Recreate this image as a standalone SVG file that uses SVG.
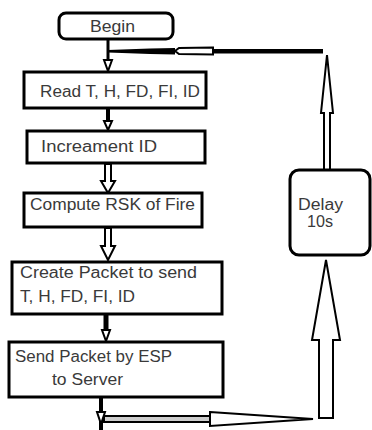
<svg xmlns="http://www.w3.org/2000/svg" width="372" height="430" viewBox="0 0 372 430">
<style>
.box{fill:#fff;stroke:#000;stroke-width:3}
.t{font-family:"Liberation Sans",Arial,sans-serif;font-size:16px;fill:#3a3a3a}
.ln{stroke:#000;fill:none}
.hol{fill:#fff;stroke:#000;stroke-width:2;stroke-linejoin:miter}
.blk{fill:#000;stroke:none}
</style>
<rect width="372" height="430" fill="#fff"/>
<g id="connectors">
  <line class="ln" x1="108" y1="39" x2="108" y2="62" stroke-width="3"/>
  <polygon class="hol" points="104,60 112,60 108,71"/>
  <line class="ln" x1="108" y1="108" x2="108" y2="122" stroke-width="4"/>
  <polygon class="hol" points="104,121 112,121 108,130"/>
  <path class="hol" d="M105,164 L111,164 L111,181 L115,181 L108,193 L101,181 L105,181 Z"/>
  <path class="hol" d="M105,228 L111,228 L111,246 L115,246 L108,260 L101,246 L105,246 Z"/>
  <line class="ln" x1="106" y1="314" x2="106" y2="331" stroke-width="5"/>
  <polygon class="hol" points="102,330 110,330 106,341"/>
  <line class="ln" x1="101" y1="397" x2="101" y2="430" stroke-width="4"/>
  <polygon class="hol" points="97,412 105,412 101,424"/>
  <rect x="104" y="416" width="106" height="6" fill="#ccc" stroke="#000" stroke-width="2"/>
  <polygon class="hol" points="210,412 313,419 210,426"/>
  <path class="hol" d="M319,418 L333,418 L333,340 L340,340 L326,260 L312,340 L319,340 Z"/>
  <path class="hol" d="M324,170 L330,170 L330,113 L333,113 L327,55 L321,113 L324,113 Z"/>
  <rect class="blk" x="213" y="49" width="110" height="4.5"/>
  <polygon class="blk" points="175,48 150,48.5 108,50 108,52.5 150,54 175,54.5"/>
  <polygon class="hol" points="213,47.5 179,48 175,51 179,54 213,54.5"/>
</g>
<g id="begin">
  <rect class="box" x="59" y="13" width="114" height="26" rx="7"/>
  <text class="t" x="90" y="32" textLength="45" lengthAdjust="spacingAndGlyphs">Begin</text>
</g>
<g id="read">
  <rect class="box" x="24" y="72" width="182" height="36"/>
  <text class="t" x="40" y="97" textLength="160" lengthAdjust="spacingAndGlyphs">Read T, H, FD, FI, ID</text>
</g>
<g id="increment">
  <rect class="box" x="27" y="131" width="178" height="32"/>
  <text class="t" x="41" y="152" textLength="116" lengthAdjust="spacingAndGlyphs">Increament ID</text>
</g>
<g id="compute">
  <rect class="box" x="24" y="193" width="178" height="34"/>
  <text class="t" x="30" y="210" textLength="165" lengthAdjust="spacingAndGlyphs">Compute RSK of Fire</text>
</g>
<g id="create">
  <rect class="box" x="12" y="262" width="210" height="52"/>
  <text class="t" x="20" y="278" textLength="177" lengthAdjust="spacingAndGlyphs">Create Packet to send</text>
  <text class="t" x="20" y="302" textLength="115" lengthAdjust="spacingAndGlyphs">T, H, FD, FI, ID</text>
</g>
<g id="send">
  <rect class="box" x="9" y="342" width="214" height="55"/>
  <text class="t" x="15" y="362" textLength="157" lengthAdjust="spacingAndGlyphs">Send Packet by ESP</text>
  <text class="t" x="52" y="385" textLength="71" lengthAdjust="spacingAndGlyphs">to Server</text>
</g>
<g id="delay">
  <rect class="box" x="290" y="170" width="80" height="85" rx="9"/>
  <text class="t" x="298" y="210" textLength="45" lengthAdjust="spacingAndGlyphs">Delay</text>
  <text class="t" x="307" y="227" textLength="26" lengthAdjust="spacingAndGlyphs">10s</text>
</g>
</svg>
